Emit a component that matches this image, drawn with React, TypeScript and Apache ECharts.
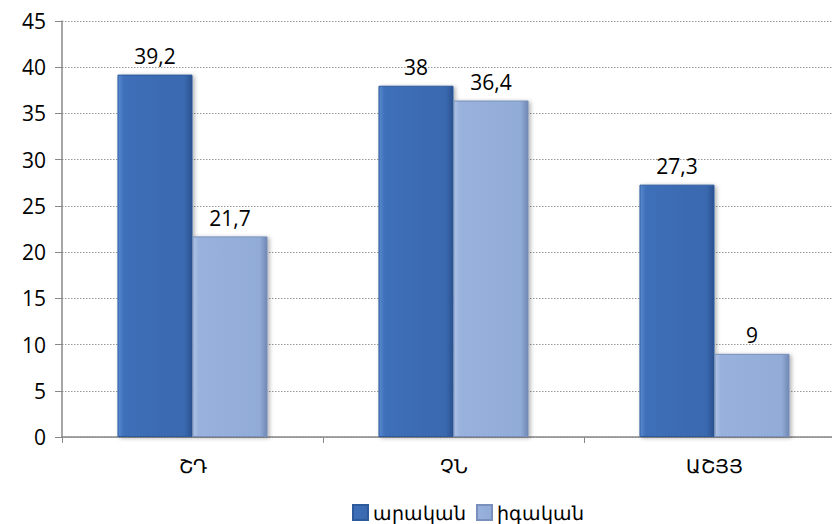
import React, { useEffect, useRef } from "react";
import * as echarts from "echarts";

const categories = ["ՇԴ", "ՉՆ", "ԱՇՅՅ"];
const maleValues = [39.2, 38, 27.3];
const femaleValues = [21.7, 36.4, 9];
const seriesNames = ["արական", "իգական"];

const fmt = (p: any) => String(p.value).replace(".", ",");

const darkGrad = new echarts.graphic.LinearGradient(0, 0, 1, 0, [
  { offset: 0, color: "#5a8ad0" },
  { offset: 0.08, color: "#3d6fb8" },
  { offset: 0.9, color: "#3a69b0" },
  { offset: 1, color: "#2b528f" },
]);
const lightGrad = new echarts.graphic.LinearGradient(0, 0, 1, 0, [
  { offset: 0, color: "#b0c4e6" },
  { offset: 0.08, color: "#98b2dd" },
  { offset: 0.9, color: "#92acd8" },
  { offset: 1, color: "#6f87b3" },
]);

export default function App() {
  const ref = useRef<HTMLDivElement>(null);
  useEffect(() => {
    if (!ref.current) return;
    const chart = echarts.init(ref.current, null, { renderer: "svg" });
    const font = "'Open Sans', 'Noto Sans', sans-serif";
    const labelCommon = {
      show: true,
      position: "top",
      distance: 8,
      fontSize: 21,
      color: "#000",
      fontFamily: font,
      formatter: fmt,
    };
    chart.setOption({
      animation: false,
      textStyle: { fontFamily: font },
      grid: { left: 62, width: 783, top: 21, bottom: 87, outerBoundsMode: "none", containLabel: false },
      legend: {
        bottom: 2,
        left: 352,
        padding: 0,
        itemWidth: 15,
        itemHeight: 15,
        itemGap: 10,
        icon: "rect",
        textStyle: { fontSize: 19, color: "#000", fontFamily: font },
        data: seriesNames,
      },
      xAxis: {
        type: "category",
        data: categories,
        axisLine: { lineStyle: { color: "#888", width: 1.5 } },
        axisTick: { show: true, length: 6, lineStyle: { color: "#888" } },
        axisLabel: { fontSize: 19, color: "#000", margin: 19, fontFamily: font },
      },
      yAxis: {
        type: "value",
        min: 0,
        max: 45,
        interval: 5,
        axisLine: { show: true, lineStyle: { color: "#888", width: 1.5 } },
        axisTick: { show: true, length: 7, lineStyle: { color: "#888" } },
        axisLabel: { fontSize: 21, color: "#000", margin: 16, fontFamily: font },
        splitLine: { lineStyle: { color: "#999", type: [1.5, 1.5], width: 1 } },
      },
      series: [
        {
          name: seriesNames[0],
          type: "bar",
          data: maleValues,
          barGap: "0%",
          barCategoryGap: "42.5%",
          itemStyle: {
            color: darkGrad,
            borderColor: "#2d5a9c",
            borderWidth: 1,
            shadowColor: "rgba(0,0,0,0.3)",
            shadowBlur: 4,
            shadowOffsetX: 2,
            shadowOffsetY: 1,
          },
          label: labelCommon,
        },
        {
          name: seriesNames[1],
          type: "bar",
          data: femaleValues,
          itemStyle: {
            color: lightGrad,
            borderColor: "#7890bb",
            borderWidth: 1,
            shadowColor: "rgba(0,0,0,0.3)",
            shadowBlur: 4,
            shadowOffsetX: 2,
            shadowOffsetY: 1,
          },
          label: labelCommon,
        },
      ],
    });
    return () => chart.dispose();
  }, []);
  return <div ref={ref} style={{ width: 832, height: 524, position: "absolute", left: 0, top: 0 }} />;
}
